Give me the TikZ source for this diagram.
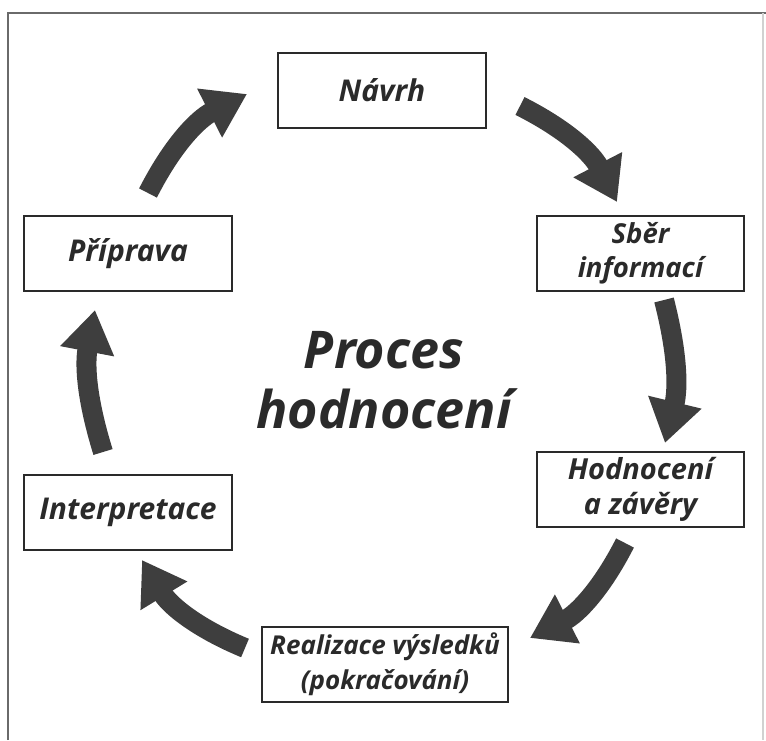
\documentclass[tikz,border=0pt]{standalone}
\usepackage{fontspec}
\setmainfont{Open Sans}
\usetikzlibrary{arrows.meta}
\definecolor{ink}{HTML}{2A2A2A}
\definecolor{arrowgray}{HTML}{3E3E3E}
\definecolor{framegray}{HTML}{6A6A6A}
\begin{document}
\begin{tikzpicture}[x=1pt,y=-1pt,
  stagebox/.style={draw=ink, line width=2pt, fill=white, inner sep=0pt,
    minimum height=75pt, align=center, text=ink,
    font=\fontsize{30}{35}\selectfont\bfseries\itshape},
  stageboxtwo/.style={stagebox, font=\fontsize{26}{35}\selectfont\bfseries\itshape},
  bigarrow/.style={draw=arrowgray, line width=20pt,
    -{Triangle[length=42pt,width=52pt]}},
  titletext/.style={text=ink, align=center,
    font=\fontsize{52}{60}\selectfont\bfseries\itshape}
]
\useasboundingbox (0,0) rectangle (766,740);
\fill[white] (0,0) rectangle (766,740);
% frame
\draw[framegray, line width=2.5pt] (8,740) -- (8,13) -- (766,13);
\draw[black!18, line width=1.5pt] (763,13) -- (763,740);

% stages
\node[stagebox, minimum width=208pt] (navrh) at (382,90.5) {Návrh};
\node[stagebox, minimum width=208pt] (priprava) at (128,253.5) {Příprava};
\node[stageboxtwo, minimum width=207pt, font=\fontsize{27.5}{34}\selectfont\bfseries\itshape] (sber) at (640.5,253.5) {Sběr\\informací};
\node[stageboxtwo, minimum width=207pt, font=\fontsize{29}{35}\selectfont\bfseries\itshape] (hodn) at (640.5,489.5) {Hodnocení\\a závěry};
\node[stagebox, minimum width=208pt] (interp) at (128,512) {Interpretace};
\node[stageboxtwo, minimum width=246pt] (real) at (385,664.5) {Realizace výsledků\\(pokračování)};

% title
\node[titletext] (title) at (384,380) {Proces\\hodnocení};

% arrow end points
\coordinate (a1s) at (148,193); \coordinate (a1e) at (247,94);
\coordinate (a2s) at (520,106); \coordinate (a2e) at (617,202);
\coordinate (a3s) at (664,300); \coordinate (a3e) at (665,443);
\coordinate (a4s) at (625,543); \coordinate (a4e) at (530,638);
\coordinate (a5s) at (245,648); \coordinate (a5e) at (142,560);
\coordinate (a6s) at (103,452); \coordinate (a6e) at (95,310);

\draw[bigarrow] (a1s) to[bend left=18] (a1e);
\draw[bigarrow] (a2s) to[bend left=18] (a2e);
\draw[bigarrow] (a3s) to[bend left=14] (a3e);
\draw[bigarrow] (a4s) to[bend left=18] (a4e);
\draw[bigarrow] (a5s) to[bend left=18] (a5e);
\draw[bigarrow] (a6s) to[bend left=14] (a6e);
\end{tikzpicture}
\end{document}
